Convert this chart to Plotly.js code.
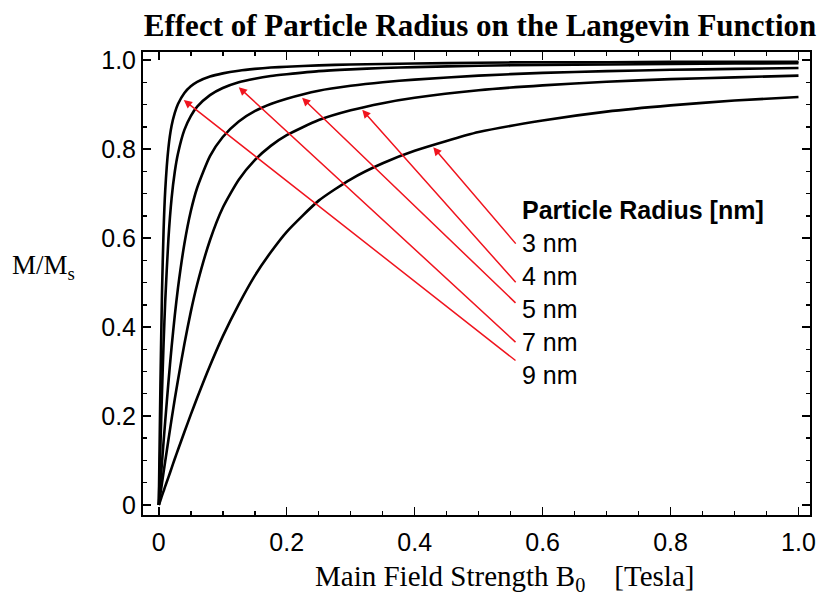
<!DOCTYPE html>
<html>
<head>
<meta charset="utf-8">
<script src="https://cdn.plot.ly/plotly-3.0.1.min.js"></script>
<style>html,body{margin:0;padding:0;background:#fff;}#chart{width:822px;height:597px;}</style>
</head>
<body>
<div id="chart"></div>
<script>
// Main field strength B0 [Tesla]
const B = [0, 0.0025, 0.005, 0.0075, 0.01, 0.015, 0.02, 0.025, 0.03, 0.04, 0.05, 0.06, 0.08, 0.1, 0.125, 0.15, 0.175, 0.2, 0.25, 0.3, 0.35, 0.4, 0.5, 0.6, 0.7, 0.8, 0.9, 1.0];
// M/Ms for each particle radius
const m3nm = [0, 0.010, 0.021, 0.031, 0.042, 0.062, 0.083, 0.104, 0.124, 0.164, 0.203, 0.241, 0.313, 0.379, 0.451, 0.515, 0.568, 0.614, 0.684, 0.732, 0.768, 0.796, 0.838, 0.864, 0.884, 0.898, 0.909, 0.917];
const m4nm = [0, 0.025, 0.049, 0.074, 0.098, 0.146, 0.193, 0.238, 0.281, 0.362, 0.434, 0.496, 0.595, 0.668, 0.731, 0.775, 0.807, 0.831, 0.865, 0.887, 0.903, 0.915, 0.932, 0.943, 0.951, 0.957, 0.961, 0.965];
const m5nm = [0, 0.048, 0.096, 0.143, 0.188, 0.275, 0.355, 0.426, 0.488, 0.587, 0.660, 0.713, 0.784, 0.827, 0.862, 0.885, 0.901, 0.913, 0.931, 0.942, 0.950, 0.956, 0.965, 0.971, 0.975, 0.978, 0.980, 0.982];
const m7nm = [0, 0.131, 0.254, 0.364, 0.457, 0.597, 0.689, 0.749, 0.790, 0.843, 0.874, 0.895, 0.921, 0.937, 0.950, 0.958, 0.964, 0.968, 0.975, 0.979, 0.982, 0.984, 0.987, 0.989, 0.990, 0.991, 0.992, 0.993];
const m9nm = [0, 0.266, 0.478, 0.618, 0.706, 0.802, 0.852, 0.881, 0.901, 0.926, 0.941, 0.951, 0.963, 0.970, 0.976, 0.980, 0.983, 0.985, 0.988, 0.990, 0.991, 0.992, 0.994, 0.995, 0.995, 0.996, 0.996, 0.996];

const seriesNames = ['3 nm', '4 nm', '5 nm', '7 nm', '9 nm'];
const seriesValues = [m3nm, m4nm, m5nm, m7nm, m9nm];
// arrow head points (on each curve) and arrow tail points
const arrowHeadX = [0.429, 0.318, 0.224, 0.125, 0.039];
const arrowHeadY = [0.804, 0.888, 0.915, 0.939, 0.910];
const arrowTailX = [0.560, 0.560, 0.560, 0.560, 0.560];
const arrowTailY = [0.584, 0.497, 0.451, 0.363, 0.322];
const labelY = [0.589, 0.515, 0.440, 0.366, 0.292];
const legendTitle = 'Particle Radius [nm]';
const legendTitleY = 0.662;
const labelX = 0.5645;

const tickVals = [0, 0.2, 0.4, 0.6, 0.8, 1.0];
const tickText = ['0', '0.2', '0.4', '0.6', '0.8', '1.0'];

const traces = seriesValues.map((vals, i) => ({
  type: 'scatter', mode: 'lines', name: seriesNames[i],
  x: B, y: vals,
  line: {color: '#000', width: 2.6, shape: 'spline', smoothing: 0.6},
  hoverinfo: 'skip', showlegend: false
}));

const annotations = [];
for (let i = 0; i < seriesNames.length; i++) {
  annotations.push({
    x: arrowHeadX[i], y: arrowHeadY[i], xref: 'x', yref: 'y',
    ax: arrowTailX[i], ay: arrowTailY[i], axref: 'x', ayref: 'y',
    text: '', showarrow: true, arrowhead: 2, arrowsize: 1.1, arrowwidth: 1.5,
    arrowcolor: '#f0141e', standoff: 0, startstandoff: 0
  });
  annotations.push({
    x: labelX, y: labelY[i], xref: 'x', yref: 'y', xanchor: 'left', yanchor: 'middle',
    text: seriesNames[i], showarrow: false,
    font: {family: 'Liberation Sans, Arial, sans-serif', size: 25, color: '#000'}
  });
}
annotations.push({
  x: labelX, y: legendTitleY, xref: 'x', yref: 'y', xanchor: 'left', yanchor: 'middle',
  text: legendTitle, showarrow: false,
  font: {family: 'Liberation Sans, Arial, sans-serif', size: 25, color: '#000', weight: 'bold'}
});
annotations.push({
  x: -0.1994, y: 0.535, xref: 'paper', yref: 'paper', xanchor: 'left', yanchor: 'middle',
  text: 'M/M<sub>s</sub>', showarrow: false,
  font: {family: 'Liberation Serif, Times New Roman, serif', size: 27, color: '#000'}
});
annotations.push({
  x: 0.5427, y: -0.136, xref: 'paper', yref: 'paper', xanchor: 'center', yanchor: 'middle',
  text: 'Main Field Strength B<sub>0</sub>\u00A0\u00A0\u00A0\u00A0[Tesla]', showarrow: false,
  font: {family: 'Liberation Serif, Times New Roman, serif', size: 29, color: '#000'}
});

const axisCommon = {
  showgrid: false, zeroline: false, showline: true, linecolor: '#000', linewidth: 2,
  mirror: 'allticks', ticks: 'inside', ticklen: 8, tickwidth: 1.5, tickcolor: '#000',
  tickmode: 'array', tickvals: tickVals, ticktext: tickText,
  tickfont: {family: 'Liberation Sans, Arial, sans-serif', size: 25, color: '#000'},
  minor: {tick0: 0, dtick: 0.05, ticks: 'inside', ticklen: 4, tickwidth: 1.5, tickcolor: '#000', showgrid: false},
  automargin: false
};

const layout = {
  width: 822, height: 597,
  margin: {l: 143, r: 12, t: 52, b: 82},
  paper_bgcolor: '#fff', plot_bgcolor: '#fff',
  title: {
    text: 'Effect of Particle Radius on the Langevin Function',
    font: {family: 'Liberation Serif, Times New Roman, serif', size: 31, color: '#000', weight: 'bold'},
    x: 0.584, xanchor: 'center', xref: 'container',
    y: 0.958, yanchor: 'middle', yref: 'container'
  },
  xaxis: Object.assign({}, axisCommon, {
    range: [-0.0247, 1.018],
    ticklabelstandoff: 4
  }),
  yaxis: Object.assign({}, axisCommon, {
    range: [-0.0225, 1.018]
  }),
  annotations: annotations,
  showlegend: false
};

Plotly.newPlot('chart', traces, layout, {staticPlot: true, displayModeBar: false});
</script>
</body>
</html>
